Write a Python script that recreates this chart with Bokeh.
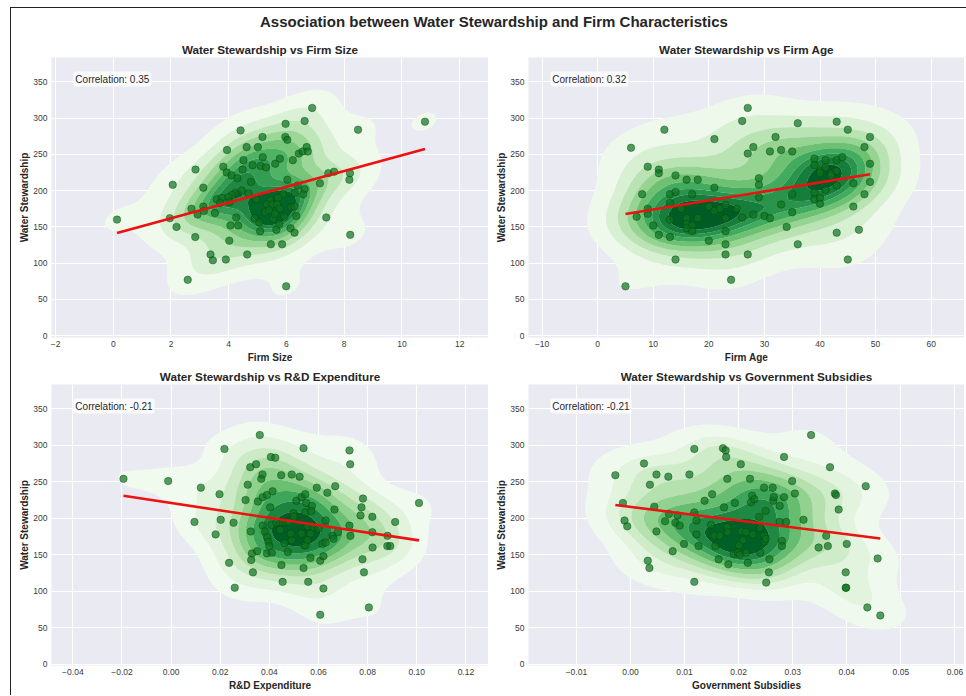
import numpy as np
from bokeh.plotting import figure
from bokeh.layouts import column, row
from bokeh.models import Range1d, FixedTicker, Label, Div
from bokeh.embed import file_html
from bokeh.resources import INLINE

main_title = "Association between Water Stewardship and Firm Characteristics"
panel_titles = ["Water Stewardship vs Firm Size", "Water Stewardship vs Firm Age",
                "Water Stewardship vs R&D Expenditure", "Water Stewardship vs Government Subsidies"]
x_labels = ["Firm Size", "Firm Age", "R&D Expenditure", "Government Subsidies"]
y_label = "Water Stewardship"
correlations = ["0.35", "0.32", "-0.21", "-0.21"]

# ---- Panel 1: firm size ----
firm_size = [0.13, 2.06, 1.96, 2.19, 2.85, 3.12, 2.71, 2.92, 2.84, 2.58,
             3.37, 3.45, 3.90, 4.02, 4.64, 4.06, 4.33, 4.26, 3.52, 3.12,
             3.14, 3.59, 3.81, 3.94, 3.93, 4.10, 4.30, 4.48, 4.51, 4.62,
             4.41, 4.83, 4.77, 5.01, 5.17, 5.18, 5.11, 5.29, 5.61, 5.77,
             5.97, 5.96, 6.03, 6.63, 6.89, 6.22, 6.43, 6.56, 6.70, 6.74,
             6.03, 6.39, 6.63, 6.29, 6.58, 5.88, 5.71, 4.69, 4.24, 4.11,
             3.99, 4.03, 3.76, 5.44, 5.32, 5.51, 5.68, 5.77, 6.16, 6.28,
             5.26, 5.54, 5.93, 6.34, 4.90, 5.06, 5.09, 5.65, 5.75, 6.14,
             6.28, 5.46, 5.85, 5.99, 7.16, 7.38, 7.45, 7.65, 8.20, 8.18,
             8.21, 8.48, 10.80, 4.45, 5.40, 5.60, 4.95, 3.70]
ws_firm_size = [160, 208, 162, 150, 229, 204, 175, 167, 136, 77,
                112, 104, 105, 131, 112, 152, 152, 163, 169, 178,
                172, 188, 233, 256, 225, 221, 217, 229, 242, 260,
                283, 235, 212, 260, 274, 246, 234, 232, 237, 244,
                292, 274, 270, 296, 314, 242, 251, 254, 260, 254,
                215, 207, 202, 197, 195, 195, 190, 196, 197, 194,
                191, 184, 190, 187, 181, 181, 181, 175, 177, 178,
                170, 161, 164, 165, 162, 156, 144, 146, 154, 148,
                142, 126, 126, 68, 210, 163, 224, 226, 224, 215,
                139, 284, 295, 200, 173, 168, 188, 183]

# ---- Panel 2: firm age ----
firm_age = [5, 6, 7, 8, 9, 9, 9, 10, 11, 11,
            11, 12, 13, 13, 13, 13, 14, 14, 14, 15,
            16, 16, 16, 16, 17, 17, 17, 18, 18, 20,
            20, 21, 21, 21, 22, 23, 23, 23, 23, 23,
            24, 25, 26, 26, 27, 27, 28, 27, 28, 29,
            29, 29, 30, 31, 31, 32, 33, 33, 34, 35,
            35, 35, 36, 36, 39, 39, 39, 39, 40, 40,
            40, 41, 41, 41, 42, 42, 43, 43, 43, 43,
            43, 44, 45, 45, 46, 46, 47, 48, 48, 49,
            49, 49, 40]
ws_firm_age = [68, 259, 164, 195, 233, 175, 168, 152, 229, 224,
               139, 284, 195, 183, 160, 136, 221, 198, 105, 175,
               215, 162, 154, 148, 195, 152, 144, 215, 162, 131,
               178, 204, 271, 172, 175, 180, 162, 144, 126, 112,
               77, 175, 296, 163, 314, 251, 260, 112, 167, 217,
               208, 191, 165, 162, 254, 274, 256, 181, 150, 254,
               195, 170, 293, 126, 244, 235, 197, 188, 228, 190,
               182, 242, 232, 201, 224, 221, 295, 242, 227, 207,
               142, 246, 284, 105, 210, 178, 146, 260, 195, 274,
               237, 212, 224]

# ---- Panel 3: R&D expenditure ----
rd_expenditure = [-0.0194, -0.0012, 0.0095, 0.0121, 0.0181, 0.0197, 0.0202, 0.0217, 0.0236, 0.0254,
                  0.0259, 0.0303, 0.0312, 0.0322, 0.0324, 0.0329, 0.0326, 0.0333, 0.0346, 0.0350,
                  0.0353, 0.0361, 0.0367, 0.0372, 0.0373, 0.0373, 0.0381, 0.0390, 0.0392, 0.0396,
                  0.0400, 0.0390, 0.0403, 0.0406, 0.0413, 0.0409, 0.0410, 0.0424, 0.0448, 0.0448,
                  0.0449, 0.0454, 0.0462, 0.0468, 0.0475, 0.0491, 0.0491, 0.0498, 0.0510, 0.0523,
                  0.0531, 0.0539, 0.0539, 0.0542, 0.0547, 0.0546, 0.0547, 0.0550, 0.0555, 0.0558,
                  0.0567, 0.0567, 0.0573, 0.0570, 0.0593, 0.0607, 0.0607, 0.0616, 0.0620, 0.0620,
                  0.0629, 0.0629, 0.0636, 0.0657, 0.0661, 0.0665, 0.0668, 0.0679, 0.0726, 0.0729,
                  0.0726, 0.0730, 0.0771, 0.0775, 0.0781, 0.0779, 0.0785, 0.0805, 0.0819, 0.0819,
                  0.0820, 0.0880, 0.0892, 0.0912, 0.1009, 0.0881, 0.0428, 0.0480, 0.0500, 0.0530,
                  0.0580, 0.0600, 0.0444, 0.0555, 0.0487]
ws_rd = [254, 251, 195, 242, 178, 233, 198, 295, 139, 194,
         105, 225, 246, 270, 182, 152, 143, 126, 274, 155,
         223, 314, 254, 260, 229, 190, 182, 152, 174, 168,
         162, 232, 215, 284, 237, 191, 153, 283, 259, 195,
         136, 113, 166, 195, 154, 260, 170, 207, 224, 257,
         229, 296, 132, 163, 163, 233, 208, 221, 189, 113,
         179, 146, 217, 210, 242, 142, 68, 165, 148, 104,
         197, 167, 235, 176, 172, 212, 244, 181, 293, 274,
         190, 176, 204, 215, 227, 144, 126, 78, 202, 181,
         160, 162, 162, 195, 221, 176, 194, 195, 202, 179,
         188, 186, 184, 170, 179]

# ---- Panel 4: government subsidies ----
gov_subsidies = [-0.0028, -0.0014, -0.0011, -0.0006, 0.0025, 0.0032, 0.0035, 0.0036, 0.0044, 0.0048,
                 0.0048, 0.0064, 0.0070, 0.0071, 0.0078, 0.0083, 0.0087, 0.0091, 0.0099, 0.0109,
                 0.0118, 0.0118, 0.0118, 0.0122, 0.0122, 0.0126, 0.0137, 0.0149, 0.0151, 0.0155,
                 0.0157, 0.0163, 0.0165, 0.0173, 0.0171, 0.0176, 0.0177, 0.0179, 0.0179, 0.0180,
                 0.0181, 0.0193, 0.0191, 0.0199, 0.0201, 0.0202, 0.0204, 0.0205, 0.0208, 0.0214,
                 0.0214, 0.0217, 0.0221, 0.0223, 0.0225, 0.0226, 0.0229, 0.0238, 0.0240, 0.0240,
                 0.0247, 0.0247, 0.0248, 0.0250, 0.0250, 0.0251, 0.0256, 0.0257, 0.0263, 0.0264,
                 0.0265, 0.0276, 0.0276, 0.0280, 0.0280, 0.0284, 0.0284, 0.0288, 0.0299, 0.0304,
                 0.0320, 0.0334, 0.0348, 0.0362, 0.0365, 0.0369, 0.0378, 0.0380, 0.0385, 0.0400,
                 0.0398, 0.0398, 0.0399, 0.0435, 0.0438, 0.0457, 0.0462]
ws_sub = [259, 221, 197, 189, 275, 142, 132, 246, 216, 260,
          182, 196, 257, 206, 155, 194, 204, 190, 165, 260,
          295, 113, 208, 197, 178, 162, 224, 191, 233, 176,
          162, 144, 176, 215, 296, 293, 284, 254, 188, 181,
          137, 221, 151, 153, 163, 150, 274, 182, 170, 181,
          153, 139, 254, 222, 231, 178, 226, 202, 153, 187,
          242, 176, 168, 172, 210, 112, 126, 144, 242, 224,
          229, 217, 195, 169, 162, 284, 229, 195, 251, 234,
          198, 314, 160, 176, 162, 270, 234, 232, 212, 165,
          126, 105, 105, 244, 78, 145, 67]

# ---- Ticks ----
ws_ticks = [0, 50, 100, 150, 200, 250, 300, 350]
size_ticks = [-2, 0, 2, 4, 6, 8, 10, 12]
size_tick_labels = ["\u22122", "0", "2", "4", "6", "8", "10", "12"]
age_ticks = [-10, 0, 10, 20, 30, 40, 50, 60]
age_tick_labels = ["\u221210", "0", "10", "20", "30", "40", "50", "60"]
rd_ticks = [-0.04, -0.02, 0, 0.02, 0.04, 0.06, 0.08, 0.1, 0.12]
rd_tick_labels = ["\u22120.04", "\u22120.02", "0.00", "0.02", "0.04", "0.06", "0.08", "0.10", "0.12"]
sub_ticks = [-0.01, 0, 0.01, 0.02, 0.03, 0.04, 0.05, 0.06]
sub_tick_labels = ["\u22120.01", "0.00", "0.01", "0.02", "0.03", "0.04", "0.05", "0.06"]

# ---- Styling ----
FONT = "Liberation Sans"
TEXT = "#262626"
GREENS = ["#f7fcf5", "#e5f5e0", "#c7e9c0", "#a1d99b", "#74c476",
          "#41ab5d", "#238b45", "#006d2c", "#00441b"]


def greens(t):
    t = min(max(t, 0.0), 1.0) * (len(GREENS) - 1)
    i = min(int(t), len(GREENS) - 2)
    f = t - i
    a = [int(GREENS[i][k:k + 2], 16) for k in (1, 3, 5)]
    b = [int(GREENS[i + 1][k:k + 2], 16) for k in (1, 3, 5)]
    c = [round(a[j] + (b[j] - a[j]) * f) for j in range(3)]
    return "#%02x%02x%02x" % tuple(c)


def kde_grid(xs, ys, n=150, cut=3):
    data = np.vstack([xs, ys]).astype(float)
    npts = data.shape[1]
    factor = npts ** (-1.0 / 6)
    cov = np.cov(data) * factor ** 2
    inv = np.linalg.inv(cov)
    norm = 1.0 / (2 * np.pi * np.sqrt(np.linalg.det(cov)) * npts)
    bw = np.sqrt(np.diag(cov))
    gx = np.linspace(data[0].min() - cut * bw[0], data[0].max() + cut * bw[0], n)
    gy = np.linspace(data[1].min() - cut * bw[1], data[1].max() + cut * bw[1], n)
    X, Y = np.meshgrid(gx, gy)
    pts = np.vstack([X.ravel(), Y.ravel()])
    d = pts[:, :, None] - data[:, None, :]
    q = np.einsum("ij,jgn->ign", inv, d)
    e = np.sum(d * q, axis=0)
    z = np.exp(-0.5 * e).sum(axis=1) * norm
    return gx, gy, z.reshape(n, n)


def iso_levels(z, props):
    vals = np.sort(z.ravel())[::-1]
    cum = np.cumsum(vals) / vals.sum()
    idx = np.searchsorted(cum, 1 - np.asarray(props))
    return np.take(vals, idx, mode="clip")


def make_panel(xs, ys, title, xlabel, corr, ticks, tick_labels, xr, yr,
               width, height, top, bottom):
    p = figure(width=width, height=height, x_range=Range1d(*xr), y_range=Range1d(*yr),
               output_backend="svg", toolbar_location=None, title=title,
               min_border_left=40, min_border_right=0, min_border_top=top,
               min_border_bottom=bottom)
    p.background_fill_color = "#EAEAF2"
    p.border_fill_color = "white"
    p.outline_line_color = None
    p.grid.grid_line_color = "white"
    p.grid.grid_line_width = 1.1

    p.title.text_font = FONT
    p.title.text_font_size = "11.7px"
    p.title.text_font_style = "bold"
    p.title.text_color = TEXT
    p.title.align = "center"
    p.title.standoff = 4
    p.title.offset = 0

    p.xaxis.ticker = FixedTicker(ticks=ticks)
    p.xaxis.major_label_overrides = dict(zip(ticks, tick_labels))
    p.yaxis.ticker = FixedTicker(ticks=ws_ticks)
    p.xaxis.axis_label = xlabel
    p.yaxis.axis_label = y_label
    for ax in (p.xaxis, p.yaxis):
        ax.axis_line_color = None
        ax.major_tick_line_color = None
        ax.minor_tick_line_color = None
        ax.major_tick_out = 0
        ax.major_tick_in = 0
        ax.major_label_text_font = FONT
        ax.major_label_text_font_size = "8.5px"
        ax.major_label_text_color = "#3a3a3a"
        ax.axis_label_text_font = FONT
        ax.axis_label_text_font_size = "10px"
        ax.axis_label_text_font_style = "bold"
        ax.axis_label_text_color = TEXT
    p.xaxis.major_label_standoff = 3
    p.xaxis.axis_label_standoff = 2
    p.yaxis.major_label_standoff = 4
    p.yaxis.axis_label_standoff = 0

    xa = np.asarray(xs, dtype=float)
    ya = np.asarray(ys, dtype=float)

    gx, gy, z = kde_grid(xa, ya)
    levels = iso_levels(z, np.linspace(0.05, 1, 10))
    levels[-1] = z.max() * 1.0001
    mids = (levels[:-1] + levels[1:]) / 2
    colors = [greens((m - levels[0]) / (levels[-1] - levels[0])) for m in mids]
    p.contour(gx, gy, z, list(levels), fill_color=colors, fill_alpha=1.0)

    p.scatter(xa, ya, size=7.5, marker="circle", fill_color="#0b7320", fill_alpha=0.7,
              line_color="#0b3d0b", line_alpha=0.5, line_width=0.8)

    coef = np.polyfit(xa, ya, 1)
    lx = np.array([xa.min(), xa.max()])
    p.line(lx, np.polyval(coef, lx), line_color="#ee1111", line_width=2.6)

    lab_x = xr[0] + 0.05 * (xr[1] - xr[0])
    lab_y = yr[0] + 0.95 * (yr[1] - yr[0])
    p.add_layout(Label(x=lab_x, y=lab_y, text="Correlation: " + corr,
                       text_font=FONT, text_font_size="10px", text_color=TEXT,
                       text_baseline="top", text_align="left",
                       background_fill_color="white", background_fill_alpha=0.8,
                       padding=2, border_radius=3))
    return p


f1 = make_panel(firm_size, ws_firm_size, panel_titles[0], x_labels[0], correlations[0],
                size_ticks, size_tick_labels, (-2.14, 13.0), (-2.5, 383.5), 477, 329, 21, 26)
f2 = make_panel(firm_age, ws_firm_age, panel_titles[1], x_labels[1], correlations[1],
                age_ticks, age_tick_labels, (-12.45, 66.0), (-2.5, 383.5), 476, 329, 21, 26)
f3 = make_panel(rd_expenditure, ws_rd, panel_titles[2], x_labels[2], correlations[2],
                rd_ticks, rd_tick_labels, (-0.0487, 0.1292), (-1.5, 383.2), 477, 330, 19, 30)
f4 = make_panel(gov_subsidies, ws_sub, panel_titles[3], x_labels[3], correlations[3],
                sub_ticks, sub_tick_labels, (-0.01886, 0.06177), (-1.5, 383.2), 476, 330, 19, 30)

title_div = Div(text=main_title, width=955, height=28, margin=(0, 0, 0, 0),
                styles={"text-align": "center", "font-weight": "bold", "font-size": "15px",
                        "font-family": FONT, "line-height": "28px", "color": TEXT,
                        "padding-left": "11px", "box-sizing": "border-box"})

layout = column(title_div, row(f1, f2, spacing=0), row(f3, f4, spacing=0), spacing=0,
                margin=(7, 0, 0, 10),
                styles={"border-top": "1px solid #222", "border-left": "1px solid #222"})

open("out.html", "w").write(file_html(layout, INLINE))
